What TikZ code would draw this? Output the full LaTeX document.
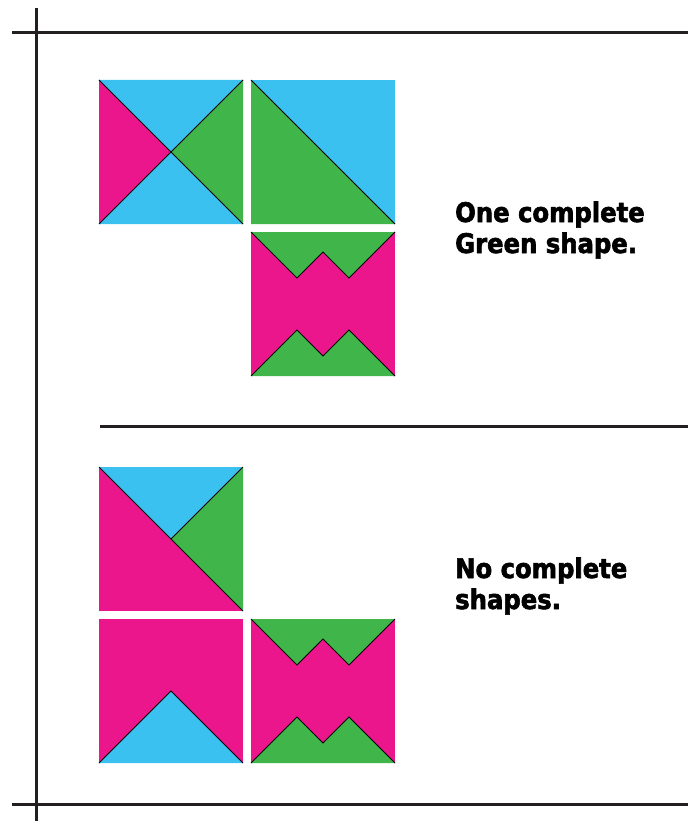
\documentclass[tikz,border=0pt]{standalone}
\usepackage{fontspec}
\newfontfamily\capfont{DejaVu Sans Condensed}[BoldFeatures={FakeBold=2.2}]
\usetikzlibrary{positioning}
\definecolor{tblue}{RGB}{59,193,240}
\definecolor{tgreen}{RGB}{64,181,74}
\definecolor{tpink}{RGB}{235,22,140}
\definecolor{frameink}{RGB}{35,31,32}
% tile drawings, #1 = upper left corner
\NewDocumentCommand \crosstile{ m }{%
    \begin{scope}[shift={#1}]
        \fill[tpink] (0,0) -- (72,72) -- (0,144) -- cycle;
        \fill[tblue] (0,0) -- (72,72) -- (144,0) -- cycle;
        \fill[tgreen] (144,0) -- (72,72) -- (144,144) -- cycle;
        \fill[tblue] (0,144) -- (72,72) -- (144,144) -- cycle;
        \draw[cut] (0,0) -- (144,144);
        \draw[cut] (0,144) -- (144,0);
    \end{scope}%
}
\NewDocumentCommand \halftile{ m }{%
    \begin{scope}[shift={#1}]
        \fill[tblue] (0,0) rectangle (144,144);
        \fill[tgreen] (0,0) -- (144,144) -- (0,144) -- cycle;
        \draw[cut] (0,0) -- (144,144);
    \end{scope}%
}
\NewDocumentCommand \wtile{ m }{%
    \begin{scope}[shift={#1}]
        \fill[tpink] (0,0) rectangle (144,144);
        \fill[tgreen] (0,0) -- (46,46) -- (72,20) -- (98,46) -- (144,0) -- cycle;
        \fill[tgreen] (0,144) -- (46,98) -- (72,124) -- (98,98) -- (144,144) -- cycle;
        \draw[cut] (0,0) -- (46,46) -- (72,20) -- (98,46) -- (144,0);
        \draw[cut] (0,144) -- (46,98) -- (72,124) -- (98,98) -- (144,144);
    \end{scope}%
}
\NewDocumentCommand \wedgetile{ m }{%
    \begin{scope}[shift={#1}]
        \fill[tpink] (0,0) rectangle (144,144);
        \fill[tblue] (0,0) -- (72,72) -- (144,0) -- cycle;
        \fill[tgreen] (144,0) -- (72,72) -- (144,144) -- cycle;
        \draw[cut] (0,0) -- (144,144);
        \draw[cut] (72,72) -- (144,0);
    \end{scope}%
}
\NewDocumentCommand \peaktile{ m }{%
    \begin{scope}[shift={#1}]
        \fill[tpink] (0,0) rectangle (144,144);
        \fill[tblue] (0,144) -- (72,72) -- (144,144) -- cycle;
        \draw[cut] (0,144) -- (72,72) -- (144,144);
    \end{scope}%
}

\begin{document}
\begin{tikzpicture}[x=1pt, y=-1pt]
    \tikzstyle{cut}=[black, line width=1pt, line join=miter]
    \tikzstyle{rule}=[frameink, line width=3pt]
    \tikzstyle{caption}=[anchor=base west, inner sep=0pt, font=\capfont\bfseries\fontsize{27}{31}\selectfont]
    \useasboundingbox (0,0) rectangle (694,821);
    % frame lines
    \draw[rule] (36,8) -- (36,821);
    \draw[rule] (12,33) -- (688,33);
    \draw[rule] (12,804) -- (688,804);
    \draw[rule] (100,426) -- (688,426);
    % upper group
    \crosstile{(99,80)}
    \halftile{(251,80)}
    \wtile{(251,232)}
    \node[caption] (one) at (455,222) {One complete};
    \node[caption] (green) at (455,253) {Green shape.};
    % lower group
    \wedgetile{(99,467)}
    \peaktile{(99,619)}
    \wtile{(251,619)}
    \node[caption] (none) at (455,578) {No complete};
    \node[caption] (shapes) at (455,609) {shapes.};
\end{tikzpicture}
\end{document}
